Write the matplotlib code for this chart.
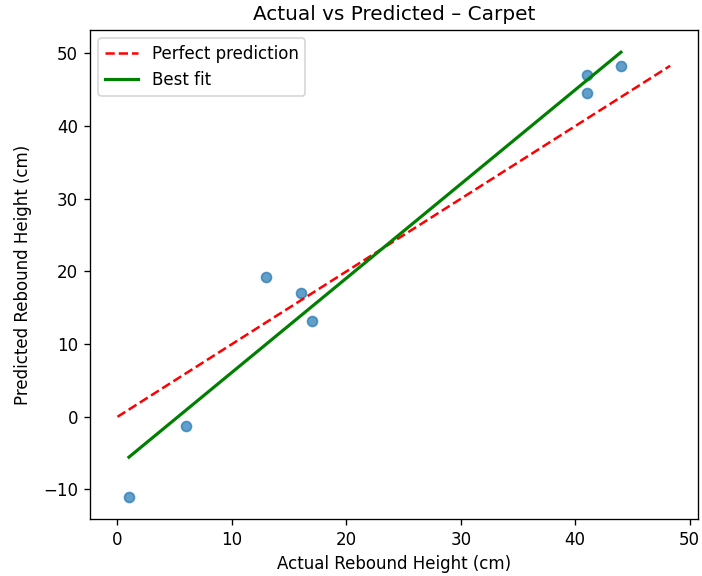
import numpy as np
import matplotlib.pyplot as plt

# actual vs predicted rebound heights (cm), carpet surface
actual = np.array([1, 6, 13, 16, 17, 41, 41, 44])
predicted = np.array([-11.0, -1.3, 19.3, 17.0, 13.2, 47.1, 44.6, 48.3])

fig = plt.figure(figsize=(5.85, 4.8), dpi=120)
ax = fig.add_axes([0.128, 0.099, 0.866, 0.849])

ax.scatter(actual, predicted, alpha=0.7)

lim = max(actual.max(), predicted.max())
ax.plot([0, lim], [0, lim], "r--", label="Perfect prediction")

slope, intercept = np.polyfit(actual, predicted, 1)
ax.plot(actual, slope * actual + intercept, color="green", lw=1.9, label="Best fit")

ax.set_xlabel("Actual Rebound Height (cm)")
ax.set_ylabel("Predicted Rebound Height (cm)", labelpad=7)
ax.set_title("Actual vs Predicted – Carpet")
ax.legend(loc="upper left")

fig.savefig("out.png", dpi=120)
